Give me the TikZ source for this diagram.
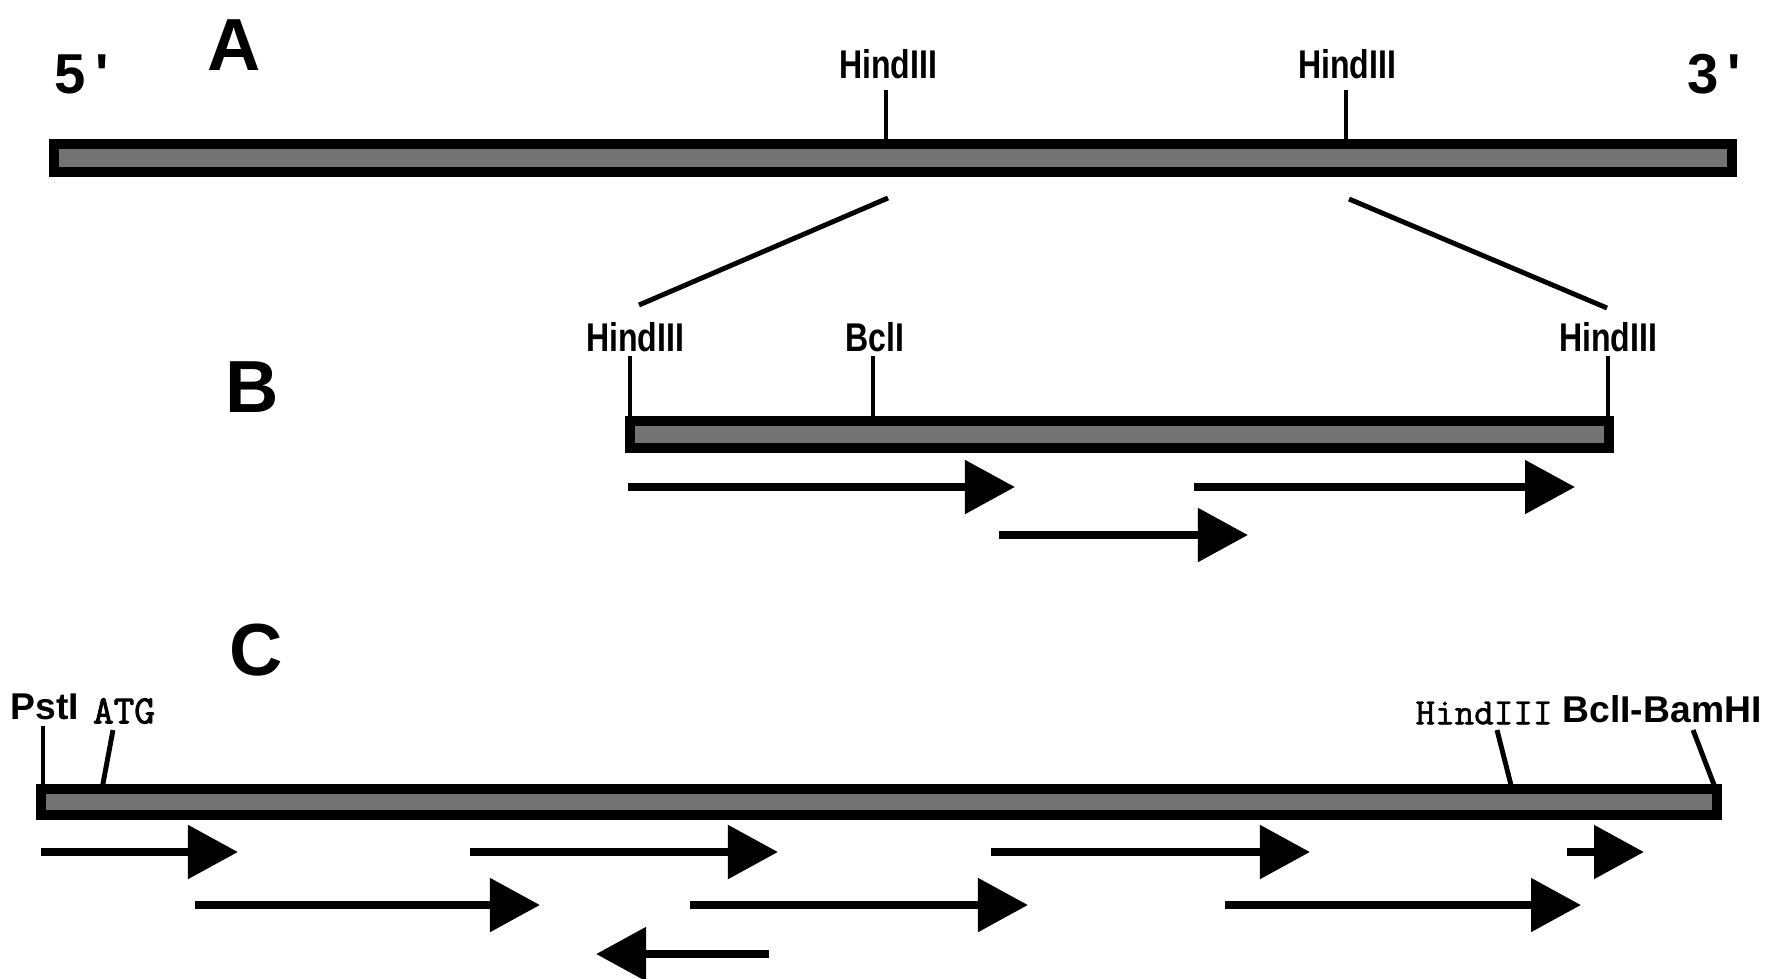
\documentclass[tikz,border=0pt]{standalone}
\usepackage{fontspec}
\setmainfont{Liberation Sans}
\newfontfamily\sitefont[FakeStretch=0.8]{Liberation Sans}
\newfontfamily\typefont[FakeBold=1.2]{Latin Modern Mono}
\newfontfamily\typeboldfont[FakeBold=2.2]{Latin Modern Mono}
\usetikzlibrary{positioning,arrows.meta}

\begin{document}
\begin{tikzpicture}[x=0.01cm, y=-0.01cm,
  >={Triangle[length=0.5cm,width=0.52cm]},
  dnabar/.style={draw=black, line width=2.6pt, fill=black!55},
  site/.style={font=\sitefont\bfseries\fontsize{11.4}{12}\selectfont, inner sep=0pt},
  csite/.style={font=\bfseries\fontsize{10.6}{12}\selectfont, inner sep=0pt},
  mono/.style={font=\typefont\fontsize{10.6}{12}\selectfont, inner sep=0pt},
  panel/.style={font=\bfseries\fontsize{21}{24}\selectfont, inner sep=0pt},
  strand/.style={font=\bfseries\fontsize{16}{18}\selectfont, inner sep=0pt},
  tick/.style={line width=1.4pt},
  read/.style={->, line width=2.4pt}]
  \useasboundingbox (0,0) rectangle (1774,978);

  % panel A: whole gene
  \node[strand] (five) at (82,74) {5\,\textquotesingle};
  \node[strand] (three) at (1714,74) {3\,\textquotesingle};
  \node[panel] (labA) at (234,45) {A};
  \draw[dnabar] (54,144) rectangle (1732,172);
  \node[site] (hindA1) at (888,64) {HindIII};
  \node[site] (hindA2) at (1347,64) {HindIII};
  \coordinate (cutA1) at (886,144);
  \coordinate (cutA2) at (1346,144);
  \draw[tick] (cutA1) -- (cutA1 |- 0,90);
  \draw[tick] (cutA2) -- (cutA2 |- 0,90);

  % zoom lines
  \coordinate (zoomA1) at (888,198);
  \coordinate (zoomB1) at (639,305);
  \coordinate (zoomA2) at (1349,199);
  \coordinate (zoomB2) at (1607,308);
  \draw[tick] (zoomA1) -- (zoomB1);
  \draw[tick] (zoomA2) -- (zoomB2);

  % panel B: HindIII fragment
  \node[panel] (labB) at (252,387) {B};
  \draw[dnabar] (630,421) rectangle (1609,448);
  \node[site] (hindB1) at (635,337) {HindIII};
  \node[site] (bclB) at (875,337) {BclI};
  \node[site] (hindB2) at (1608,337) {HindIII};
  \coordinate (cutB1) at (630,421);
  \coordinate (cutB2) at (873,421);
  \coordinate (cutB3) at (1608,421);
  \foreach \c in {cutB1,cutB2,cutB3}
    \draw[tick] (\c) -- (\c |- 0,356);
  \foreach \a/\b/\y in {628/1015/487, 1194/1575/487, 999/1248/535}
    \draw[read] (\a,\y) -- (\b,\y);

  % panel C: cDNA
  \node[panel] (labC) at (256,650) {C};
  \draw[dnabar] (41,789) rectangle (1717,815);
  \node[csite] (pstC) at (45,707) {PstI};
  \node[mono, font=\typeboldfont\fontsize{11.4}{12}\selectfont] (atgC) at (124,711) {ATG};
  \node[mono] (hindC) at (1484,713) {HindIII};
  \node[csite] (bamC) at (1662,709) {BclI-BamHI};
  \coordinate (cutC1) at (43,789);
  \coordinate (cutC2) at (102,789);
  \coordinate (cutC3) at (1512,789);
  \coordinate (cutC4) at (1716,790);
  \draw[tick] (cutC1) -- (43,726);
  \draw[tick] (cutC2) -- (113,730);
  \draw[tick] (cutC3) -- (1497,730);
  \draw[tick] (cutC4) -- (1693,730);
  \foreach \a/\b/\y in {41/238/852, 470/778/852, 991/1310/852, 1567/1644/852,
                        195/540/905, 690/1028/905, 1225/1581/905, 769/596/954}
    \draw[read] (\a,\y) -- (\b,\y);
\end{tikzpicture}
\end{document}
